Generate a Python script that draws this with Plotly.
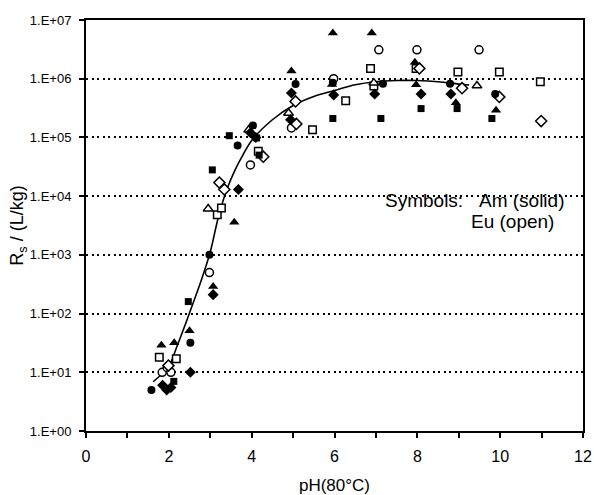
import plotly.graph_objects as go

# ---------------- data ----------------
# Am (solid symbols)
am_circle_ph = [1.58, 2.52, 2.98, 3.66, 4.03, 5.06, 5.96, 7.17, 8.79, 9.88]
am_circle_rs = [5, 32, 1000, 7.3e4, 1.6e5, 8.1e5, 8.5e5, 8.2e5, 8.2e5, 5.5e5]

am_triangle_ph = [1.82, 2.13, 2.50, 3.07, 3.58, 4.96, 5.96, 5.94, 6.90, 7.94, 7.97, 8.93, 9.90]
am_triangle_rs = [29, 32, 51, 290, 3600, 1.35e6, 6e6, 8.0e5, 6e6, 1.9e6, 7.9e5, 3.9e5, 2.9e5]

am_square_ph = [2.12, 2.47, 3.05, 3.46, 4.12, 4.18, 5.96, 7.12, 8.09, 8.96, 9.80]
am_square_rs = [7, 160, 2.8e4, 1.07e5, 9.8e4, 5.0e4, 2.1e5, 2.1e5, 3.1e5, 3.1e5, 2.1e5]

am_diamond_ph = [1.85, 1.95, 2.05, 2.52, 3.07, 3.68, 3.97, 4.10, 4.94, 4.96, 5.98, 6.97, 8.09, 8.81]
am_diamond_rs = [6, 5, 5.5, 10, 210, 1.3e4, 1.2e5, 1.0e5, 2.0e5, 5.7e5, 5.3e5, 5.5e5, 5.5e5, 5.5e5]

# Eu (open symbols)
eu_circle_ph = [1.84, 1.96, 2.05, 2.98, 3.97, 4.96, 5.98, 7.07, 7.99, 9.49]
eu_circle_rs = [10, 12, 10, 500, 3.4e4, 1.45e5, 1.0e6, 3.1e6, 3.1e6, 3.1e6]

eu_square_ph = [1.77, 2.18, 3.17, 3.27, 4.16, 5.47, 6.27, 6.87, 6.95, 7.97, 8.98, 9.98, 10.97]
eu_square_rs = [18, 17, 4.8e3, 6.3e3, 5.8e4, 1.35e5, 4.2e5, 1.5e6, 7.5e5, 1.5e6, 1.3e6, 1.3e6, 8.9e5]

eu_triangle_ph = [2.95, 3.93, 4.89, 6.95, 9.44]
eu_triangle_rs = [6.1e3, 1.35e5, 2.6e5, 8.5e5, 7.6e5]

eu_diamond_ph = [1.99, 3.22, 3.34, 4.28, 5.06, 5.08, 8.05, 9.08, 9.98, 10.99]
eu_diamond_rs = [13, 1.7e4, 1.3e4, 4.7e4, 4.1e5, 1.7e5, 1.5e6, 6.9e5, 4.9e5, 1.9e5]

# fitted curve
curve_ph = [1.62, 1.8, 2.0, 2.2, 2.4, 2.6, 2.8, 3.0, 3.2, 3.4, 3.6, 3.8, 4.0,
            4.5, 5.0, 5.5, 6.0, 6.5, 7.0, 7.5, 8.0, 8.5, 9.0, 9.25]
curve_rs = [6.9, 8.9, 12.6, 28, 66, 160, 400, 1.12e3, 4.5e3, 1.3e4, 2.8e4, 5.2e4, 8.9e4,
            2.0e5, 3.5e5, 5.0e5, 6.3e5, 7.9e5, 8.9e5, 9.3e5, 9.3e5, 8.9e5, 8.1e5, 7.8e5]

y_tickvals = [1, 10, 100, 1e3, 1e4, 1e5, 1e6, 1e7]
y_ticktext = ["1.E+00", "1.E+01", "1.E+02", "1.E+03", "1.E+04", "1.E+05", "1.E+06", "1.E+07"]
x_tickvals = [0, 2, 4, 6, 8, 10, 12]

annot_line1 = "Symbols:&nbsp;&nbsp;&nbsp;Am (solid)"
annot_line2 = "Eu (open)"

# ---------------- figure ----------------
FONT = "Liberation Sans, Arial, sans-serif"
fig = go.Figure()

fig.add_trace(go.Scatter(x=curve_ph, y=curve_rs, mode="lines",
                         line=dict(color="black", width=1.6, shape="spline", smoothing=1.0),
                         hoverinfo="skip", showlegend=False))


def add_pts(xs, ys, symbol, filled, size):
    fig.add_trace(go.Scatter(
        x=xs, y=ys, mode="markers", showlegend=False,
        marker=dict(symbol=symbol, size=size,
                    color="black" if filled else "white",
                    line=dict(color="black", width=0 if filled else 1.5))))


add_pts(eu_circle_ph, eu_circle_rs, "circle", False, 8)
add_pts(eu_square_ph, eu_square_rs, "square", False, 7.5)
add_pts(eu_triangle_ph, eu_triangle_rs, "triangle-up", False, 8.5)
add_pts(eu_diamond_ph, eu_diamond_rs, "diamond", False, 8.5)
add_pts(am_circle_ph, am_circle_rs, "circle", True, 8)
add_pts(am_square_ph, am_square_rs, "square", True, 7)
add_pts(am_triangle_ph, am_triangle_rs, "triangle-up", True, 9)
add_pts(am_diamond_ph, am_diamond_rs, "diamond", True, 8.5)

fig.add_annotation(x=7.16, y=3.92, xref="x", yref="y", text=annot_line1, showarrow=False,
                   xanchor="left", yanchor="middle", font=dict(family=FONT, size=19, color="black"))
fig.add_annotation(x=9.24, y=3.56, xref="x", yref="y", text=annot_line2, showarrow=False,
                   xanchor="left", yanchor="middle", font=dict(family=FONT, size=19, color="black"))

fig.update_layout(
    width=594, height=495,
    margin=dict(l=86, r=11, t=20, b=64),
    paper_bgcolor="white", plot_bgcolor="white",
    font=dict(family=FONT, color="black"),
)

fig.update_xaxes(
    range=[0, 12], tickvals=x_tickvals, showgrid=False, zeroline=False, automargin=False,
    showline=True, linecolor="black", linewidth=2, mirror=True,
    ticks="outside", ticklen=5, tickwidth=1.5, tickcolor="black",
    minor=dict(dtick=1, ticks="outside", ticklen=5, tickwidth=1.5, tickcolor="black"),
    tickfont=dict(family=FONT, size=16),
    ticklabelstandoff=5,
    title=dict(text="pH(80°C)", font=dict(family=FONT, size=17), standoff=16),
)

fig.update_yaxes(
    type="log", range=[0, 7], tickvals=y_tickvals, ticktext=y_ticktext, automargin=False,
    showgrid=True, gridcolor="black", gridwidth=2, griddash="2px,3.5px",
    zeroline=False, showline=True, linecolor="black", linewidth=2, mirror=True,
    ticks="outside", ticklen=5, tickwidth=1.5, tickcolor="black",
    tickfont=dict(family=FONT, size=13),
    ticklabelstandoff=5,
    title=dict(text="R<sub>s</sub> / (L/kg)", font=dict(family=FONT, size=18), standoff=1),
)

fig.write_html("out.html")
